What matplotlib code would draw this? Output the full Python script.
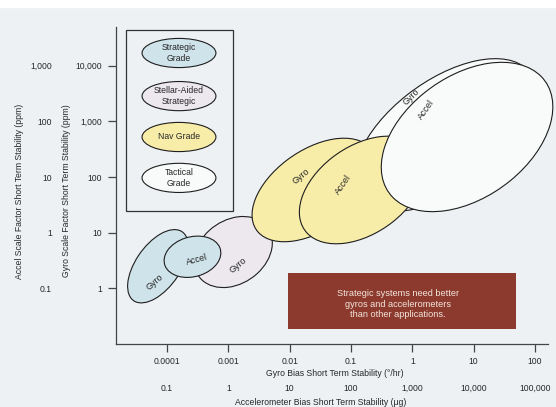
import numpy as np
import matplotlib.pyplot as plt
from matplotlib.patches import Ellipse, Rectangle

plt.rcParams['font.family'] = ['Liberation Sans', 'DejaVu Sans']

# grade legend
grades = ['Strategic\nGrade', 'Stellar-Aided\nStrategic', 'Nav Grade', 'Tactical\nGrade']
grade_colors = ['#cfe3ea', '#ece8ee', '#f8eda8', '#f9fbfb']

# error regions (drawn in this order, back to front)
region_grade = [1, 0, 0, 3, 2, 2, 3]
region_sensor = ['Gyro', 'Gyro', 'Accel', 'Gyro', 'Gyro', 'Accel', 'Accel']
bias_center = [1.2e-3, 7.1e-5, 2.6e-4, 3.43, 0.025, 0.152, 7.8]  # gyro bias, deg/hr
sf_center = [4.5, 2.5, 3.7, 568, 58.5, 58.5, 523]  # gyro scale factor, ppm
width_dec = [1.43, 1.47, 0.95, 3.56, 2.37, 2.37, 3.25]  # decades
height_dec = [1.10, 0.74, 0.71, 1.90, 1.39, 1.52, 2.11]
tilt = [45, 59, 20, 41, 40, 41, 42]
# label placement relative to region centre (decades) and angle
label_dx = [0.08, -0.05, 0.08, -0.56, -0.21, -0.31, -0.67]
label_dy = [-0.23, -0.29, -0.05, 0.68, 0.25, 0.09, 0.49]
label_rot = [40, 42, 15, 45, 40, 55, 55]

# axis ticks (decades)
gyro_bias_ticks = [-4, -3, -2, -1, 0, 1, 2]
gyro_bias_labels = ['0.0001', '0.001', '0.01', '0.1', '1', '10', '100']
accel_bias_labels = ['0.1', '1', '10', '100', '1,000', '10,000', '100,000']
gyro_sf_ticks = [0, 1, 2, 3, 4]
gyro_sf_labels = ['1', '10', '100', '1,000', '10,000']
accel_sf_labels = ['0.1', '1', '10', '100', '1,000']

bg = '#edf1f4'
ink = '#262626'
fs = 6.2

fig = plt.figure(figsize=(5.56, 4.07), dpi=100, facecolor=bg)
fig.patches.append(Rectangle((0, 1 - 7 / 407), 1, 7 / 407, transform=fig.transFigure,
                             color='white', zorder=0))
ax = fig.add_axes([116 / 556, 1 - 344 / 407, 432 / 556, 317 / 407])
ax.set_facecolor(bg)
ax.set_xlim(-4.832, 2.212)
ax.set_ylim(-0.998, 4.693)
for s in ['top', 'right']:
    ax.spines[s].set_visible(False)
for s in ['left', 'bottom']:
    ax.spines[s].set_color('#444444')
    ax.spines[s].set_linewidth(0.9)

ax.set_xticks(gyro_bias_ticks)
ax.set_xticklabels(gyro_bias_labels)
ax.set_yticks(gyro_sf_ticks)
ax.set_yticklabels(gyro_sf_labels)
ax.tick_params(direction='out', length=6, width=0.9, color='#444444',
               labelsize=fs, labelcolor=ink, pad=4)
ax.tick_params(axis='x', pad=3)

# second scales: accel bias = gyro bias + 3 decades, accel SF = gyro SF - 1 decade
secx = ax.secondary_xaxis(-0.125, functions=(lambda v: v + 3, lambda v: v - 3))
secx.set_xticks(np.array(gyro_bias_ticks) + 3)
secx.set_xticklabels(accel_bias_labels)
secx.spines['bottom'].set_visible(False)
secx.tick_params(length=0, pad=0, labelsize=fs, labelcolor=ink)

secy = ax.secondary_yaxis(-0.148, functions=(lambda v: v - 1, lambda v: v + 1))
secy.set_yticks(np.array(gyro_sf_ticks) - 1)
secy.set_yticklabels(accel_sf_labels)
secy.spines['left'].set_visible(False)
secy.tick_params(length=0, pad=0, labelsize=fs, labelcolor=ink)

ax.text(0.507, -0.0915, 'Gyro Bias Short Term Stability (°/hr)', transform=ax.transAxes,
        ha='center', va='center', fontsize=fs, color=ink)
ax.text(0.4745, -0.183, 'Accelerometer Bias Short Term Stability (μg)', transform=ax.transAxes,
        ha='center', va='center', fontsize=fs, color=ink)
ax.text(-0.1157, 0.483, 'Gyro Scale Factor Short Term Stability (ppm)', transform=ax.transAxes,
        ha='center', va='center', rotation=90, fontsize=fs, color=ink)
ax.text(-0.2245, 0.483, 'Accel Scale Factor Short Term Stability (ppm)', transform=ax.transAxes,
        ha='center', va='center', rotation=90, fontsize=fs, color=ink)

# regions
for i in range(len(region_sensor)):
    cx = np.log10(bias_center[i])
    cy = np.log10(sf_center[i])
    ax.add_patch(Ellipse((cx, cy), width_dec[i], height_dec[i], angle=tilt[i],
                         facecolor=grade_colors[region_grade[i]], edgecolor='#1e1e1e',
                         linewidth=0.8, zorder=2 + i, clip_on=False))
    ax.text(cx + label_dx[i], cy + label_dy[i], region_sensor[i], rotation=label_rot[i],
            ha='center', va='center', fontsize=6.4, color=ink, zorder=2 + i)

# legend box
ax.add_patch(Rectangle((0.0231, 0.4196), 0.2477, 0.5709, transform=ax.transAxes,
                       facecolor='none', edgecolor='#333333', linewidth=0.9, zorder=10))
legend_y = [0.918, 0.782, 0.653, 0.524]
for g, c, y in zip(grades, grade_colors, legend_y):
    ax.add_patch(Ellipse((0.1458, y), 0.171, 0.092, transform=ax.transAxes,
                         facecolor=c, edgecolor='#1e1e1e', linewidth=0.8, zorder=11))
    ax.text(0.1458, y, g, transform=ax.transAxes, ha='center', va='center',
            fontsize=fs, color=ink, linespacing=1.25, zorder=12)

# callout
ax.add_patch(Rectangle((0.398, 0.0473), 0.528, 0.1767, transform=ax.transAxes,
                       facecolor='#8c3a2e', edgecolor='none', zorder=10))
ax.text(0.653, 0.126, 'Strategic systems need better\ngyros and accelerometers\nthan other applications.',
        transform=ax.transAxes, ha='center', va='center', fontsize=6.6, color='#f4e6dc',
        linespacing=1.2, zorder=11)

fig.savefig('out.png', dpi=100, facecolor=bg)
